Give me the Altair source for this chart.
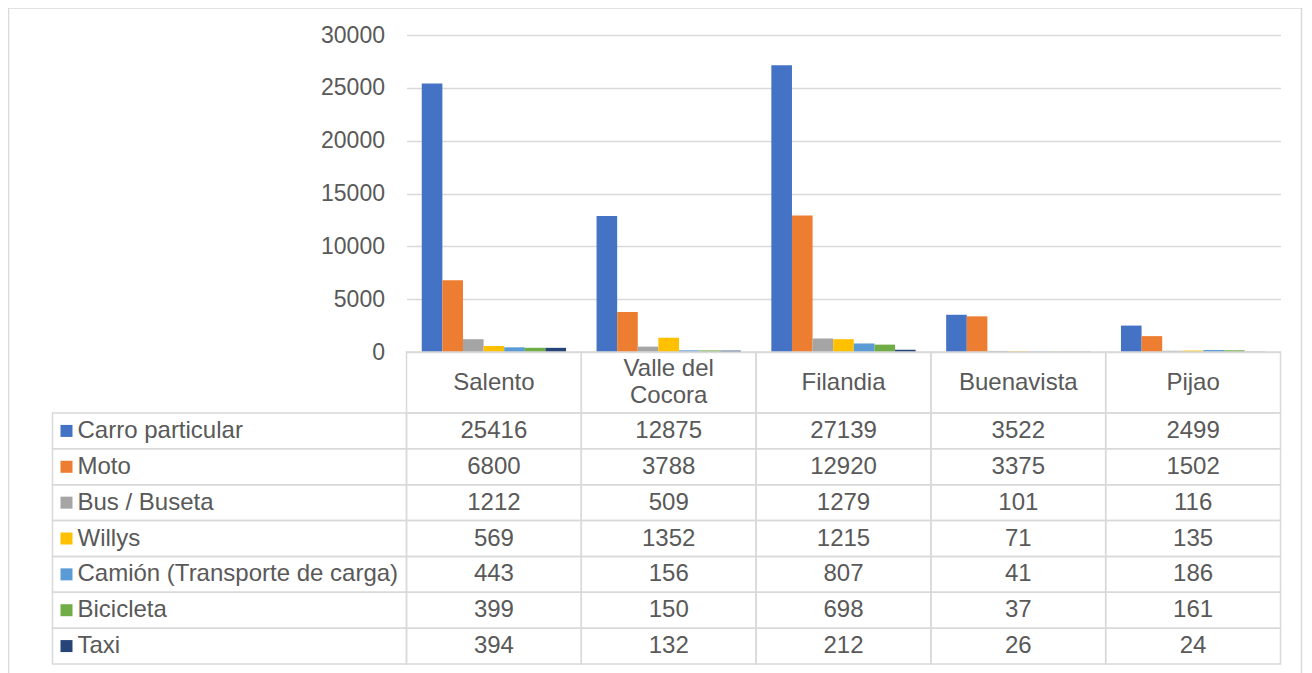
import altair as alt
import pandas as pd

categories = ["Salento", "Valle del Cocora", "Filandia", "Buenavista", "Pijao"]
header_lines = [["Salento"], ["Valle del", "Cocora"], ["Filandia"], ["Buenavista"], ["Pijao"]]
series = ["Carro particular", "Moto", "Bus / Buseta", "Willys",
          "Camión (Transporte de carga)", "Bicicleta", "Taxi"]
colors = ["#4472C4", "#ED7D31", "#A5A5A5", "#FFC000", "#5B9BD5", "#70AD47", "#264478"]

carro = [25416, 12875, 27139, 3522, 2499]
moto = [6800, 3788, 12920, 3375, 1502]
bus = [1212, 509, 1279, 101, 116]
willys = [569, 1352, 1215, 71, 135]
camion = [443, 156, 807, 41, 186]
bicicleta = [399, 150, 698, 37, 161]
taxi = [394, 132, 212, 26, 24]
y_ticks = [0, 5000, 10000, 15000, 20000, 25000, 30000]

values = [carro, moto, bus, willys, camion, bicicleta, taxi]
rows = []
for s, vals in zip(series, values):
    for c, v in zip(categories, vals):
        rows.append({"cat": c, "series": s, "value": v})
df = pd.DataFrame(rows)

hrows = []
for c, lines in zip(categories, header_lines):
    n = len(lines)
    for i, t in enumerate(lines):
        hrows.append({"cat": c, "text": t, "line": i - (n - 1) / 2})
hdr = pd.DataFrame(hrows)
hdr_cells_df = pd.DataFrame({"cat": categories})
ser = pd.DataFrame({"series": series})
blank = pd.DataFrame({"a": [0]})

FONT = "Liberation Sans"
TXT = "#595959"
LINE = "#d9d9d9"
FS_AX = 23
FS = 24
W_LEFT, W_MAIN = 354, 874
H_BARS, H_HDR, H_ROWS = 317, 61, 251

xcat = alt.X("cat:N", sort=categories, axis=None,
             scale=alt.Scale(paddingInner=0, paddingOuter=0))
yser = alt.Y("series:N", sort=series, axis=None,
             scale=alt.Scale(paddingInner=0, paddingOuter=0))
col = alt.Color("series:N", sort=series,
                scale=alt.Scale(domain=series, range=colors), legend=None)

# top-left blank cell, also carries the outer frame
c00 = alt.Chart(blank).mark_rect(fillOpacity=0, stroke=LINE, strokeWidth=1.5).encode(
    x=alt.value(-44), x2=alt.value(1249), y=alt.value(-27), y2=alt.value(700)
).properties(width=W_LEFT, height=H_BARS)

bars = alt.Chart(df).mark_bar().encode(
    x=xcat,
    xOffset=alt.XOffset("series:N", sort=series,
                        scale=alt.Scale(paddingInner=0, paddingOuter=0.74)),
    y=alt.Y("value:Q", scale=alt.Scale(domain=[0, 30000], nice=False),
            axis=alt.Axis(values=y_ticks, format="d", grid=True, gridColor=LINE,
                          gridWidth=1.3, domain=False, ticks=False, tickSize=0,
                          labelPadding=22, labelFontSize=FS_AX, labelColor=TXT,
                          labelFont=FONT, title=None)),
    color=col,
).properties(width=W_MAIN, height=H_BARS)

c10 = alt.Chart(blank).mark_point(opacity=0).encode(
    x=alt.value(0), y=alt.value(0)
).properties(width=W_LEFT, height=H_HDR)

hdr_cells = alt.Chart(hdr_cells_df).mark_rect(fillOpacity=0, stroke=LINE,
                                              strokeWidth=1.5).encode(x=xcat)
hdr_text = alt.Chart(hdr).mark_text(fontSize=FS, font=FONT, color=TXT,
                                    baseline="middle").encode(
    x=xcat,
    y=alt.Y("line:Q", axis=None, scale=alt.Scale(domain=[1.1, -1.1], nice=False, zero=False)),
    text="text:N")
c11 = alt.layer(hdr_cells, hdr_text).properties(width=W_MAIN, height=H_HDR)

leg_cells = alt.Chart(ser).mark_rect(fillOpacity=0, stroke=LINE, strokeWidth=1.5).encode(y=yser)
leg_sq = alt.Chart(ser).mark_square(size=144, opacity=1).encode(
    x=alt.value(14), y=yser, color=col)
leg_txt = alt.Chart(ser).mark_text(fontSize=FS, font=FONT, color=TXT, align="left",
                                   baseline="middle").encode(
    x=alt.value(25), y=yser, text="series:N")
c20 = alt.layer(leg_cells, leg_sq, leg_txt).properties(width=W_LEFT, height=H_ROWS)

val_cells = alt.Chart(df).mark_rect(fillOpacity=0, stroke=LINE, strokeWidth=1.5).encode(
    x=xcat, y=yser)
val_txt = alt.Chart(df).mark_text(fontSize=FS, font=FONT, color=TXT, baseline="middle").encode(
    x=xcat, y=yser, text="value:Q")
c21 = alt.layer(val_cells, val_txt).properties(width=W_MAIN, height=H_ROWS)

chart = alt.concat(c00, bars, c10, c11, c20, c21, columns=2, spacing=0, bounds="flush").resolve_scale(
    x="independent", y="independent", color="independent", xOffset="independent"
).properties(
    padding={"left": -0.5, "top": -1, "right": 0, "bottom": 0},
    background="white",
).configure_view(strokeWidth=0, strokeOpacity=0)

chart.save("out.html", embed_options={"renderer": "svg", "actions": False})
